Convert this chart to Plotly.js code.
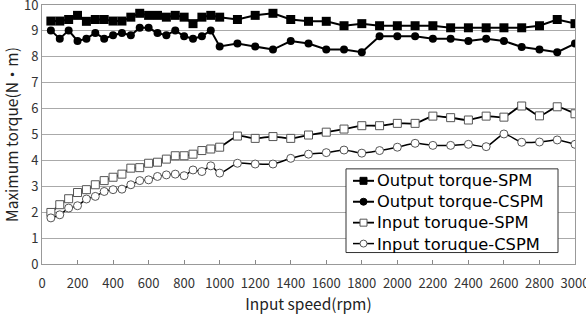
<!DOCTYPE html>
<html><head><meta charset="utf-8">
<script src="https://cdn.plot.ly/plotly-3.0.1.min.js"></script>
<style>html,body{margin:0;padding:0;background:#fff;}#chart{width:586px;height:314px;}</style>
</head><body><div id="chart"></div>
<script>
const speed = [50,100,150,200,250,300,350,400,450,500,550,600,650,700,750,800,850,900,950,1000,
  1100,1200,1300,1400,1500,1600,1700,1800,1900,2000,2100,2200,2300,2400,2500,2600,2700,2800,2900,3000];
const outSPM = [9.38,9.38,9.44,9.60,9.37,9.44,9.44,9.38,9.38,9.53,9.68,9.60,9.60,9.53,9.60,9.53,9.28,9.53,9.60,9.53,
  9.44,9.60,9.68,9.44,9.37,9.37,9.20,9.28,9.20,9.20,9.20,9.20,9.12,9.12,9.12,9.12,9.12,9.20,9.44,9.28];
const outCSPM = [9.02,8.70,9.02,8.61,8.70,8.92,8.70,8.83,8.92,8.83,9.12,9.12,8.92,8.83,9.02,8.79,8.70,8.79,9.02,8.40,
  8.51,8.40,8.28,8.61,8.51,8.28,8.28,8.18,8.79,8.79,8.79,8.70,8.70,8.61,8.70,8.61,8.38,8.28,8.18,8.51];
const inSPM = [1.99,2.29,2.52,2.76,2.87,3.06,3.22,3.35,3.47,3.70,3.72,3.89,3.93,4.05,4.18,4.18,4.24,4.38,4.44,4.51,
  4.94,4.85,4.92,4.85,4.98,5.09,5.21,5.34,5.34,5.43,5.43,5.71,5.65,5.56,5.71,5.67,6.10,5.72,6.07,5.80];
const inCSPM = [1.78,1.90,2.16,2.25,2.51,2.61,2.80,2.87,2.89,3.06,3.22,3.25,3.38,3.44,3.47,3.41,3.63,3.57,3.79,3.51,
  3.89,3.86,3.86,4.08,4.24,4.30,4.40,4.28,4.38,4.51,4.66,4.58,4.58,4.62,4.53,5.02,4.70,4.71,4.79,4.62];
const names = ['Output torque-SPM','Output torque-CSPM','Input toruque-SPM','Input toruque-CSPM'];

const FONT = '"Noto Sans CJK JP", "DejaVu Sans", sans-serif';
const styles = [
  {lw: 2, sym: 'square', fill: '#000', edge: '#000'},
  {lw: 2, sym: 'circle', fill: '#000', edge: '#000'},
  {lw: 1.8, sym: 'square', fill: '#fff', edge: '#555'},
  {lw: 1.5, sym: 'circle', fill: '#fff', edge: '#555'}
];
const series = [outSPM, outCSPM, inSPM, inCSPM];
const traces = series.map((ys, i) => ({
  x: speed, y: ys, name: names[i], mode: 'lines+markers', showlegend: false,
  line: Object.assign({color: '#000', width: styles[i].lw}, i >= 2 ? {shape: 'spline', smoothing: 0.6} : {}),
  marker: {symbol: styles[i].sym, size: i === 0 ? 9 : 8, color: styles[i].fill,
    line: {width: i >= 2 ? 1 : 0, color: styles[i].edge}}
}));

// Custom legend (layout decoration in paper coordinates)
const L = 42, R = 575, T = 4.5, B = 264.5;
const px = p => (p - L) / (R - L);
const py = p => (B - p) / (B - T);
const shapes = [{type: 'rect', xref: 'paper', yref: 'paper', x0: px(346), x1: px(558), y0: py(253), y1: py(169),
  line: {color: '#333', width: 1}, fillcolor: '#fff', layer: 'above'}];
const rowsY = [181, 202, 223, 244];
rowsY.forEach((ry, i) => {
  const s = styles[i];
  shapes.push({type: 'line', xref: 'paper', yref: 'paper', x0: px(353), x1: px(374), y0: py(ry), y1: py(ry),
    line: {color: '#000', width: s.lw}, layer: 'above'});
  shapes.push({type: s.sym === 'square' ? 'rect' : 'circle', xref: 'paper', yref: 'paper',
    x0: px(360), x1: px(367), y0: py(ry + 3.5), y1: py(ry - 3.5),
    fillcolor: s.fill, line: {color: s.edge, width: 1}, layer: 'above'});
});
const annotations = [{xref: 'paper', yref: 'paper', x: px(375), y: py(212.5), xanchor: 'left', yanchor: 'middle',
  align: 'left', text: names.join('<br>'), showarrow: false,
  font: {size: 16.3, family: '"DejaVu Sans", sans-serif', color: '#000'}}];

const layout = {
  width: 586, height: 314,
  margin: {l: L, r: 586 - R, t: T, b: 314 - B},
  paper_bgcolor: '#fff', plot_bgcolor: '#fff',
  font: {family: FONT, color: '#222'},
  showlegend: false,
  shapes: shapes, annotations: annotations,
  xaxis: {range: [0, 3000], dtick: 200, tick0: 0, showgrid: false, zeroline: false,
    showline: true, linecolor: '#999', mirror: true, ticks: 'inside', ticklen: 4, tickcolor: '#888',
    ticklabeloverflow: 'allow', ticklabelstandoff: 7,
    tickfont: {size: 13, color: '#333'},
    title: {text: 'Input speed(rpm)', font: {size: 15.5, color: '#222'}, standoff: 8}},
  yaxis: {range: [0, 10], dtick: 1, showgrid: true, gridcolor: '#aaa', zeroline: false,
    showline: true, linecolor: '#999', mirror: true, ticks: '',
    ticklabeloverflow: 'allow',
    tickfont: {size: 13, color: '#333'},
    title: {text: 'Maximum torque(N・m)', font: {size: 15.5, color: '#222'}, standoff: 6}}
};
Plotly.newPlot('chart', traces, layout, {displayModeBar: false, staticPlot: true});
</script></body></html>
